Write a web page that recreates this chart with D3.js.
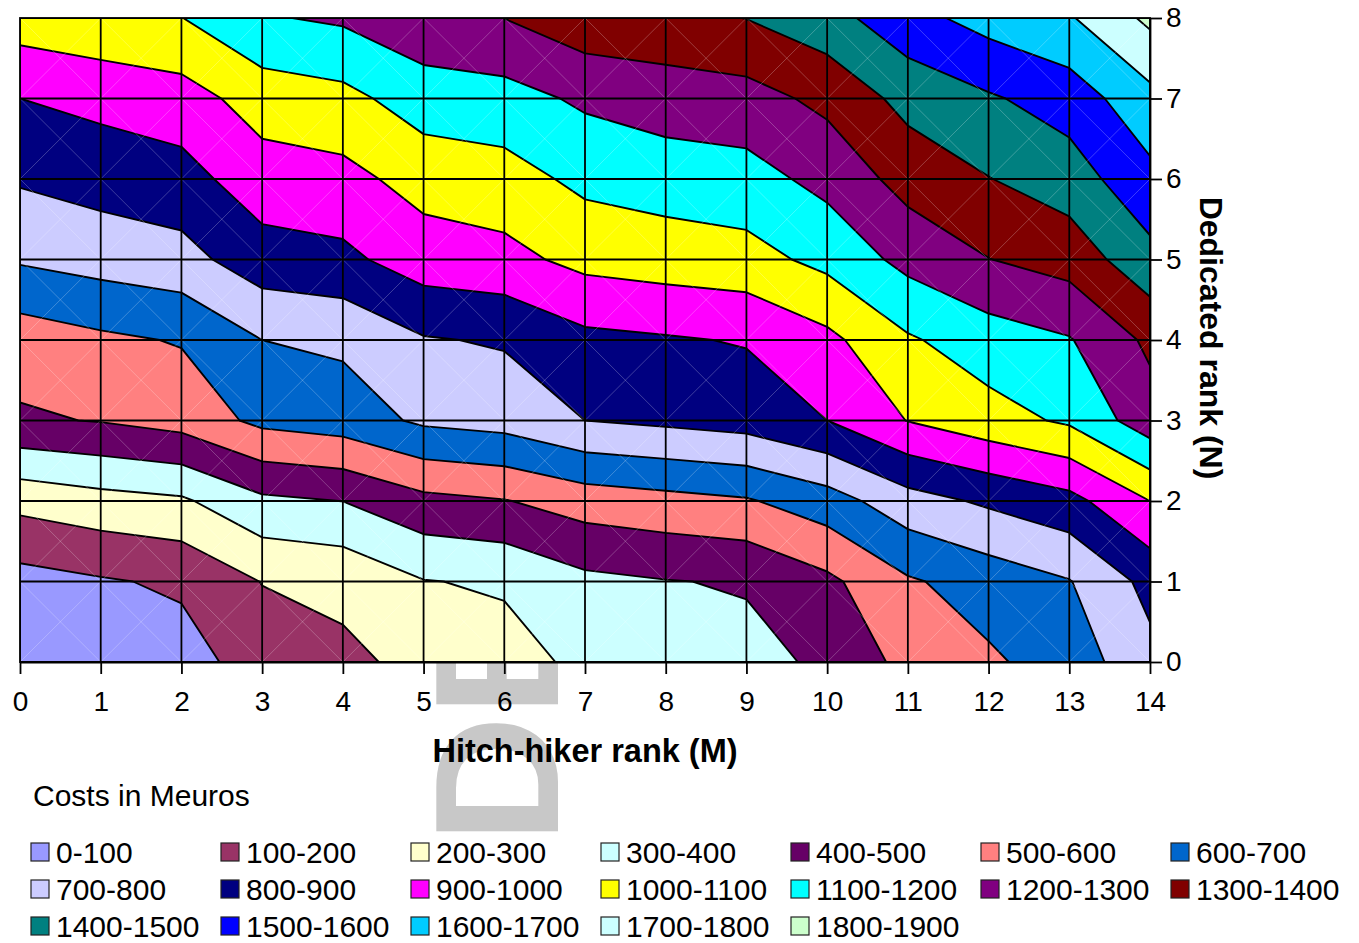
<!DOCTYPE html>
<html>
<head>
<meta charset="utf-8">
<script src="https://cdn.jsdelivr.net/npm/d3@7/dist/d3.min.js"></script>
<style>
body { margin: 0; background: #fff; }
svg text { font-family: "Liberation Sans", Arial, sans-serif; }
</style>
</head>
<body>
<script>
var width = 1359,
    height = 943;

// axis ranks
var mRanks = [0, 1, 2, 3, 4, 5, 6, 7, 8, 9, 10, 11, 12, 13, 14];
var nRanks = [0, 1, 2, 3, 4, 5, 6, 7, 8];

// cost (Meuros) at each grid node, one row per dedicated rank N, columns M = 0..14
var costN0 = [10, 40, 60, 145, 180, 225, 262, 322, 345, 372, 416, 531, 585, 645, 771];
var costN1 = [62, 90, 115, 203, 223, 296, 312, 376, 396, 408, 478, 588, 643, 695, 830];
var costN2 = [230, 264, 285, 380, 401, 473, 495, 546, 568, 590, 655, 760, 816, 868, 1000];
var costN3 = [487, 505, 538, 624, 650, 717, 738, 800, 820, 841, 900, 1003, 1062, 1115, 1257];
var costN4 = [545, 581, 607, 700, 718, 792, 810, 875, 890, 907, 975, 1088, 1152, 1193, 1320];
var costN5 = [711, 740, 765, 856, 876, 952, 970, 1029, 1049, 1064, 1128, 1230, 1298, 1340, 1469];
var costN6 = [811, 840, 862, 956, 970, 1037, 1060, 1124, 1145, 1162, 1230, 1337, 1397, 1452, 1572];
var costN7 = [900, 928, 957, 1044, 1070, 1150, 1162, 1217, 1251, 1262, 1325, 1432, 1488, 1545, 1670];
var costN8 = [1051, 1078, 1098, 1191, 1215, 1270, 1301, 1365, 1368, 1402, 1462, 1566, 1638, 1690, 1822];
var costRows = [costN0, costN1, costN2, costN3, costN4, costN5, costN6, costN7, costN8];

// contour bands
var levels = [0, 100, 200, 300, 400, 500, 600, 700, 800, 900, 1000, 1100, 1200, 1300, 1400, 1500, 1600, 1700, 1800];
var bandLabels = ["0-100", "100-200", "200-300", "300-400", "400-500", "500-600", "600-700",
                  "700-800", "800-900", "900-1000", "1000-1100", "1100-1200", "1200-1300", "1300-1400",
                  "1400-1500", "1500-1600", "1600-1700", "1700-1800", "1800-1900"];
var bandColors = ["#9999FF", "#993366", "#FFFFCC", "#CCFFFF", "#660066", "#FF8080", "#0066CC",
                  "#CCCCFF", "#000080", "#FF00FF", "#FFFF00", "#00FFFF", "#800080", "#800000",
                  "#008080", "#0000FF", "#00CCFF", "#CCFFFF", "#CCFFCC"];

var svg = d3.select("body").append("svg")
    .attr("width", width)
    .attr("height", height);

var x = d3.scaleLinear().domain([0, 14]).range([20, 1150]);
var y = d3.scaleLinear().domain([0, 8]).range([662, 18]);

// grey "DE" watermark sitting behind the chart
svg.append("text")
    .attr("transform", "translate(558,843) rotate(-90)")
    .attr("font-size", 176)
    .attr("font-weight", "bold")
    .attr("fill", "#c8c8c8")
    .text("DE");

// plot background
svg.append("rect")
    .attr("x", x(0)).attr("y", y(8))
    .attr("width", x(14) - x(0)).attr("height", y(0) - y(8))
    .attr("fill", "#fff");

svg.append("clipPath").attr("id", "plot-clip")
  .append("rect")
    .attr("x", x(0)).attr("y", y(8))
    .attr("width", x(14) - x(0)).attr("height", y(0) - y(8));

// contour polygons, grid index i sits at contour coordinate i + 0.5
var values = [];
costRows.forEach(function(row) { values = values.concat(row); });

var contours = d3.contours()
    .size([mRanks.length, nRanks.length])
    .thresholds(levels)(values);

var proj = d3.geoTransform({
  point: function(px, py) { this.stream.point(x(px - 0.5), y(py - 0.5)); }
});
var path = d3.geoPath(proj);

var plot = svg.append("g").attr("clip-path", "url(#plot-clip)");

plot.selectAll("path.band")
    .data(contours)
  .enter().append("path")
    .attr("class", "band")
    .attr("d", path)
    .attr("fill", function(d, i) { return bandColors[i]; })
    .attr("fill-rule", "evenodd")
    .attr("stroke", "#000")
    .attr("stroke-width", 1.9)
    .attr("stroke-linejoin", "round");

// faint cell diagonals
var cells = d3.cross(mRanks.slice(0, -1), nRanks.slice(0, -1));
plot.selectAll("path.diag")
    .data(cells)
  .enter().append("path")
    .attr("class", "diag")
    .attr("d", function(c) {
      return "M" + x(c[0]) + "," + y(c[1]) + "L" + x(c[0] + 1) + "," + y(c[1] + 1) +
             "M" + x(c[0]) + "," + y(c[1] + 1) + "L" + x(c[0] + 1) + "," + y(c[1]);
    })
    .attr("stroke", "#fff")
    .attr("stroke-opacity", 0.3)
    .attr("stroke-width", 0.8)
    .attr("fill", "none");

// grid lines
plot.selectAll("line.vgrid")
    .data(mRanks)
  .enter().append("line")
    .attr("x1", function(d) { return x(d); }).attr("x2", function(d) { return x(d); })
    .attr("y1", y(0)).attr("y2", y(8))
    .attr("stroke", "#000").attr("stroke-width", 1.8);

plot.selectAll("line.hgrid")
    .data(nRanks)
  .enter().append("line")
    .attr("y1", function(d) { return y(d); }).attr("y2", function(d) { return y(d); })
    .attr("x1", x(0)).attr("x2", x(14))
    .attr("stroke", "#000").attr("stroke-width", 1.8);

svg.append("rect")
    .attr("x", x(0)).attr("y", y(8))
    .attr("width", x(14) - x(0)).attr("height", y(0) - y(8))
    .attr("fill", "none").attr("stroke", "#000").attr("stroke-width", 1.8);

// axes
var xAxis = svg.append("g")
    .attr("transform", "translate(0," + y(0) + ")")
    .call(d3.axisBottom(x).tickValues(mRanks).tickSize(12).tickSizeOuter(0).tickPadding(17));
var yAxis = svg.append("g")
    .attr("transform", "translate(" + x(14) + ",0)")
    .call(d3.axisRight(y).tickValues(nRanks).tickSize(12).tickSizeOuter(0).tickPadding(4));

[xAxis, yAxis].forEach(function(g) {
  g.attr("font-size", 28).attr("font-family", "Liberation Sans, Arial, sans-serif");
  g.selectAll("line").attr("stroke", "#000").attr("stroke-width", 1.8);
  g.select(".domain").attr("stroke", "#000").attr("stroke-width", 1.8);
  g.selectAll("text").attr("fill", "#000");
});

svg.append("text")
    .attr("x", 585).attr("y", 762)
    .attr("text-anchor", "middle")
    .attr("font-size", 32.5).attr("font-weight", "bold")
    .text("Hitch-hiker rank (M)");

svg.append("text")
    .attr("transform", "translate(1200,338) rotate(90)")
    .attr("text-anchor", "middle")
    .attr("font-size", 32).attr("font-weight", "bold")
    .text("Dedicated rank (N)");

// legend
svg.append("text")
    .attr("x", 33).attr("y", 806)
    .attr("font-size", 30)
    .text("Costs in Meuros");

var items = svg.append("g").selectAll("g.item")
    .data(bandLabels)
  .enter().append("g")
    .attr("class", "item")
    .attr("transform", function(d, i) {
      return "translate(" + (31 + (i % 7) * 190) + "," + (852 + Math.floor(i / 7) * 37) + ")";
    });

items.append("rect")
    .attr("x", 0).attr("y", -9)
    .attr("width", 18).attr("height", 18)
    .attr("fill", function(d, i) { return bandColors[i]; })
    .attr("stroke", "#222").attr("stroke-width", 1.2);

items.append("text")
    .attr("x", 25).attr("y", 0).attr("dy", "0.36em")
    .attr("font-size", 30)
    .text(function(d) { return d; });
</script>
</body>
</html>
